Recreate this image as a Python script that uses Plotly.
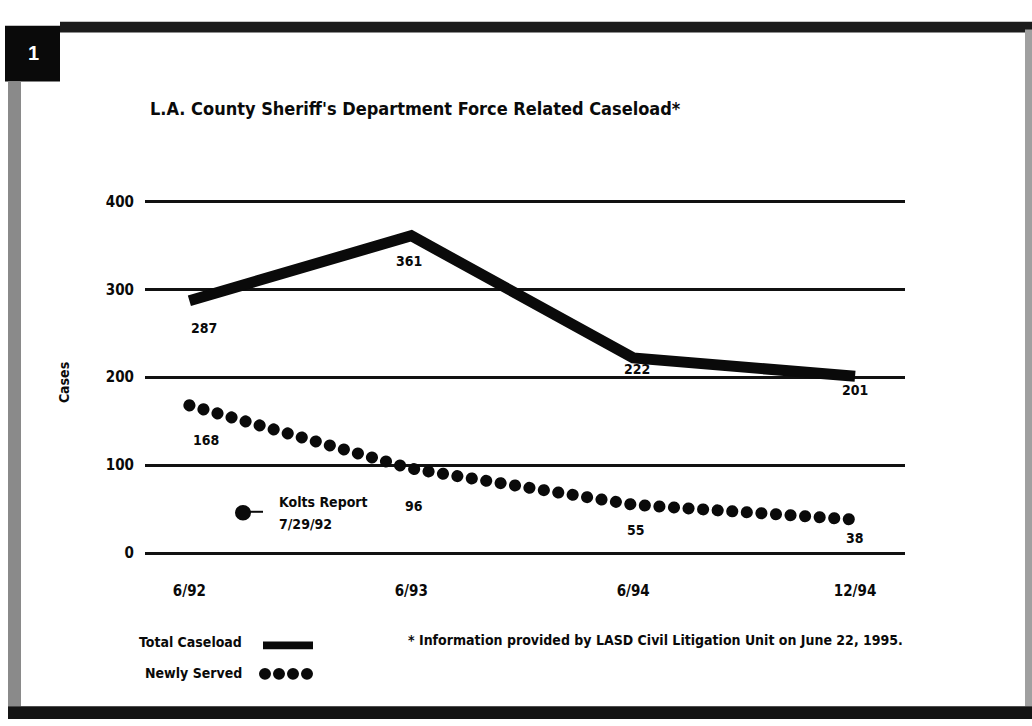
import plotly.graph_objects as go

# ---- data ----
periods = ["6/92", "6/93", "6/94", "12/94"]
total_caseload = [287, 361, 222, 201]
newly_served = [168, 96, 55, 38]
y_ticks = [0, 100, 200, 300, 400]

title_text = "L.A. County Sheriff's Department Force Related Caseload*"
footnote_text = "* Information provided by LASD Civil Litigation Unit on June 22, 1995."
kolts_text = ["Kolts Report", "7/29/92"]

# label offsets (pixels, relative to each point) - styling only
total_label_dx = [15, -2, 4, 0]
total_label_dy = [-27, -25, -11, -14]
new_label_dx = [17, 3, 3, 0]
new_label_dy = [-35, -37, -25, -18]

W, H = 1032, 726
FONT = "Liberation Sans Narrow, DejaVu Sans Condensed, Arial Narrow, sans-serif"
INK = "#0a0a0a"

# y mapping: value 0 at pixel 557, value 400 at pixel 199
Y0_PX, Y400_PX = 557, 199
PPU = (Y0_PX - Y400_PX) / 400.0
Y_LO, Y_HI = -3, 403


def px(x):
    return x / W


def py(y):
    return 1 - y / H


fig = go.Figure()
fig.add_trace(go.Scatter(x=periods, y=total_caseload, mode="lines",
                         line=dict(color=INK, width=11),
                         hoverinfo="skip", name="Total Caseload"))
fig.add_trace(go.Scatter(x=periods, y=newly_served, mode="lines",
                         line=dict(color=INK, width=12, dash="10px,5px"),
                         hoverinfo="skip", name="Newly Served"))

annotations = []
for i, (p, v) in enumerate(zip(periods, total_caseload)):
    annotations.append(dict(x=p, y=v, xref="x", yref="y", text=f"<b>{v}</b>",
                            showarrow=False, xanchor="center", yanchor="middle",
                            xshift=total_label_dx[i], yshift=total_label_dy[i],
                            font=dict(family=FONT, size=14, color=INK)))
for i, (p, v) in enumerate(zip(periods, newly_served)):
    annotations.append(dict(x=p, y=v, xref="x", yref="y", text=f"<b>{v}</b>",
                            showarrow=False, xanchor="center", yanchor="middle",
                            xshift=new_label_dx[i], yshift=new_label_dy[i],
                            font=dict(family=FONT, size=14, color=INK)))


def paper_text(x, y, text, size=14, xanchor="left", color=INK, family=FONT, angle=0):
    annotations.append(dict(x=px(x), y=py(y), xref="paper", yref="paper",
                            xanchor=xanchor, yanchor="middle", text=text,
                            showarrow=False, textangle=angle,
                            font=dict(family=family, size=size, color=color)))


paper_text(148, 104, f"<b>{title_text}</b>", size=18)
paper_text(64, 384, "<b>Cases</b>", size=14, xanchor="center", angle=-90)
paper_text(33, 48, "<b>1</b>", size=20, xanchor="center", color="white",
           family="Liberation Sans, Arial, sans-serif")
paper_text(277, 505, f"<b>{kolts_text[0]}</b>", size=14)
paper_text(277, 527, f"<b>{kolts_text[1]}</b>", size=14)
paper_text(244, 648, "<b>Total Caseload</b>", size=14, xanchor="right")
paper_text(244, 679, "<b>Newly Served</b>", size=14, xanchor="right")
paper_text(406, 646, f"<b>{footnote_text}</b>", size=14)

shapes = [
    # frame
    dict(type="rect", xref="paper", yref="paper", x0=px(60), x1=px(1032), y0=py(27), y1=py(16),
         fillcolor="#1c1c1c", line=dict(width=0)),
    dict(type="rect", xref="paper", yref="paper", x0=px(5), x1=px(60), y0=py(77), y1=py(20),
         fillcolor=INK, line=dict(width=0)),
    dict(type="rect", xref="paper", yref="paper", x0=px(8), x1=px(21), y0=py(713), y1=py(77),
         fillcolor="#8a8a8a", line=dict(width=0)),
    dict(type="rect", xref="paper", yref="paper", x0=px(1025), x1=px(1032), y0=py(713), y1=py(24),
         fillcolor="#a0a0a0", line=dict(width=0)),
    dict(type="rect", xref="paper", yref="paper", x0=px(8), x1=px(1032), y0=py(726), y1=py(713),
         fillcolor="#141414", line=dict(width=0)),
    # Kolts marker
    dict(type="circle", xref="paper", yref="paper", x0=px(235), x1=px(251), y0=py(524), y1=py(508),
         fillcolor=INK, line=dict(width=0)),
    dict(type="line", xref="paper", yref="paper", x0=px(250), x1=px(263), y0=py(515), y1=py(515),
         line=dict(color=INK, width=2)),
    # legend samples
    dict(type="rect", xref="paper", yref="paper", x0=px(263), x1=px(313), y0=py(655), y1=py(647),
         fillcolor=INK, line=dict(width=0)),
]
for cx in [265, 279, 293, 307]:
    shapes.append(dict(type="circle", xref="paper", yref="paper", x0=px(cx - 6), x1=px(cx + 6),
                       y0=py(686), y1=py(674), fillcolor=INK, line=dict(width=0)))

dom_bottom = Y0_PX + (0 - Y_LO) * PPU
dom_top = Y400_PX - (Y_HI - 400) * PPU

fig.update_layout(
    width=W, height=H, margin=dict(l=0, r=0, t=0, b=0),
    paper_bgcolor="white", plot_bgcolor="white", showlegend=False,
    xaxis=dict(domain=[px(145), px(905)], range=[-0.2, 3.225], type="category",
               showgrid=False, zeroline=False, showline=False, ticks="",
               ticklabelstandoff=24,
               tickfont=dict(family=FONT, size=15, color=INK),
               tickvals=periods, ticktext=[f"<b>{p}</b>" for p in periods]),
    yaxis=dict(domain=[py(dom_bottom), py(dom_top)], range=[Y_LO, Y_HI],
               showgrid=True, gridcolor="#111111", gridwidth=3,
               zeroline=True, zerolinecolor="#111111", zerolinewidth=3,
               showline=False, ticks="", ticklabelstandoff=10,
               tickvals=y_ticks, ticktext=[f"<b>{t}</b>" for t in y_ticks],
               tickfont=dict(family=FONT, size=15, color=INK)),
    annotations=annotations, shapes=shapes,
)

post = """
document.documentElement.style.margin = '0';
document.documentElement.style.padding = '0';
document.body.style.margin = '0';
document.body.style.padding = '0';
document.body.style.overflow = 'hidden';
var gd = document.getElementById('{plot_id}');
gd.style.position = 'absolute';
gd.style.left = '0px';
gd.style.top = '0px';
function fixDots(){
  var traces = gd.querySelectorAll('.scatterlayer .trace');
  if (traces.length > 1) {
    traces[1].querySelectorAll('path.js-line').forEach(function(p){
      p.style.strokeLinecap = 'round';
      p.style.strokeDasharray = '0.1px,14.5px';
    });
  }
}
fixDots();
if (gd.on) { gd.on('plotly_afterplot', fixDots); }
"""

fig.write_html("out.html", post_script=post, config={"displayModeBar": False})
